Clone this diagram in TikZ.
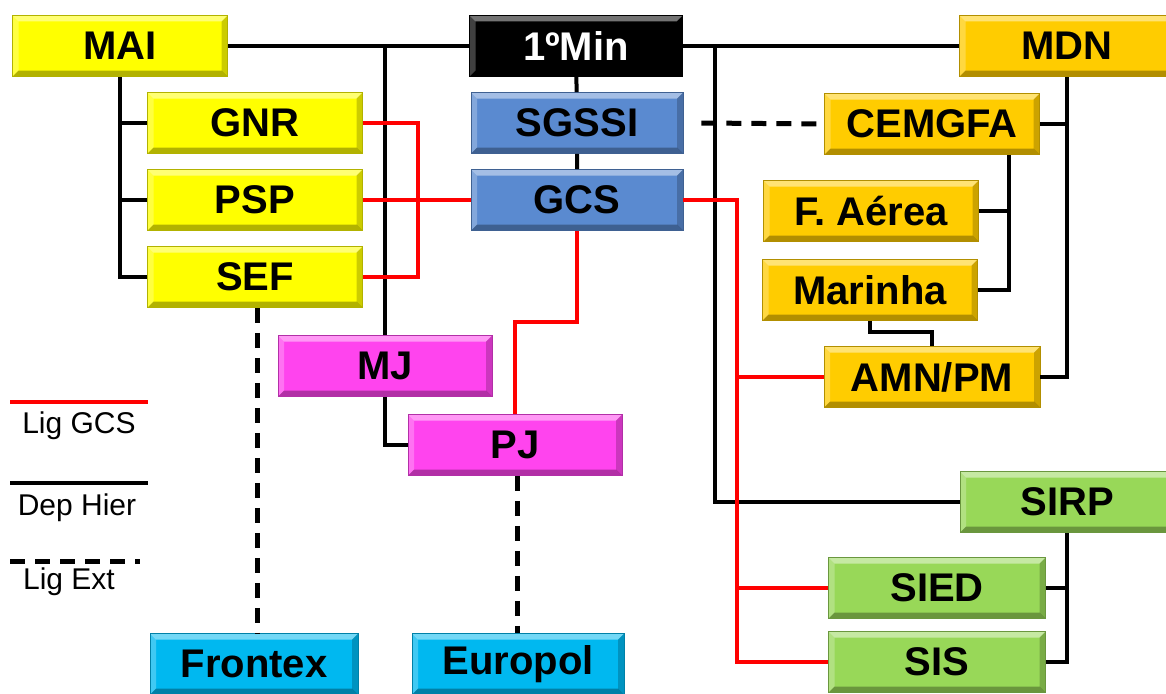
\documentclass[tikz,border=0pt]{standalone}
\usepackage{fontspec}
\setmainfont{Liberation Sans}
\usetikzlibrary{calc}

\definecolor{amarelo}{HTML}{FFFF00}
\definecolor{ouro}{HTML}{FFCC00}
\definecolor{azul}{HTML}{5A8AD0}
\definecolor{rosa}{HTML}{FF44EE}
\definecolor{verde}{HTML}{98D858}
\definecolor{ciano}{HTML}{00B8F0}
\definecolor{vermelho}{HTML}{FF0000}

\tikzset{
  caixa/.style={draw=#1!70!black, line width=0.6pt, fill=#1,
    minimum width=215pt, minimum height=61pt, inner sep=0pt,
    font=\fontsize{40}{40}\selectfont\bfseries,
    path picture={
      \fill[white,opacity=.45](path picture bounding box.north west)--(path picture bounding box.north east)
        --([shift={(-6pt,-6pt)}]path picture bounding box.north east)--([shift={(6pt,-6pt)}]path picture bounding box.north west)--cycle;
      \fill[white,opacity=.25](path picture bounding box.north west)--(path picture bounding box.south west)
        --([shift={(6pt,6pt)}]path picture bounding box.south west)--([shift={(6pt,-6pt)}]path picture bounding box.north west)--cycle;
      \fill[black,opacity=.3](path picture bounding box.south west)--(path picture bounding box.south east)
        --([shift={(-6pt,6pt)}]path picture bounding box.south east)--([shift={(6pt,6pt)}]path picture bounding box.south west)--cycle;
      \fill[black,opacity=.2](path picture bounding box.north east)--(path picture bounding box.south east)
        --([shift={(-6pt,6pt)}]path picture bounding box.south east)--([shift={(-6pt,-6pt)}]path picture bounding box.north east)--cycle;
    }},
  hier/.style={draw=black, line width=4pt},
  gcs/.style={draw=vermelho, line width=4pt},
  ext/.style={draw=black, line width=5pt, dash pattern=on 15pt off 10pt},
  legenda/.style={font=\fontsize{30}{30}\selectfont, inner sep=0pt}
}

\begin{document}
\begin{tikzpicture}[x=1pt,y=-1pt]
  \useasboundingbox(0,0)rectangle(1166,693);
  % topo
  \node[caixa=amarelo] (mai) at (120,46) {MAI};
  \node[caixa=black,text=white,minimum width=213pt] (min) at (576,46) {1ºMin};
  \node[caixa=ouro] (mdn) at (1067,46) {MDN};
  % MAI
  \node[caixa=amarelo] (gnr) at (255,123) {GNR};
  \node[caixa=amarelo] (psp) at (255,200) {PSP};
  \node[caixa=amarelo] (sef) at (255,277) {SEF};
  % 1ºMin
  \node[caixa=azul,minimum width=212pt] (sgssi) at (577,123) {SGSSI};
  \node[caixa=azul,minimum width=212pt] (gcs) at (577,200) {GCS};
  % MDN
  \node[caixa=ouro] (cemgfa) at (932,124) {CEMGFA};
  \node[caixa=ouro] (faerea) at (871,211) {F. Aérea};
  \node[caixa=ouro] (marinha) at (870,290) {Marinha};
  \node[caixa=ouro,minimum width=216pt] (amn) at (932,377) {AMN/PM};
  % MJ
  \node[caixa=rosa,minimum width=214pt] (mj) at (385,366) {MJ};
  \node[caixa=rosa,minimum width=214pt] (pj) at (515,445) {PJ};
  % informacoes
  \node[caixa=verde,minimum width=214pt] (sirp) at (1067,502) {SIRP};
  \node[caixa=verde,minimum width=217pt] (sied) at (937,588) {SIED};
  \node[caixa=verde,minimum width=217pt] (sis) at (937,662) {SIS};
  % externos
  \node[caixa=ciano,minimum width=208pt] (frontex) at (254,664) {Frontex};
  \node[caixa=ciano,minimum width=212pt] (europol) at (518,664) {Europol};

  % dependencia hierarquica
  \draw[hier](mai)--(min);
  \draw[hier](min)--(mdn);
  \draw[hier](mai.south)|-(gnr.west)(mai.south)|-(psp.west)(mai.south)|-(sef.west);
  \draw[hier](mai-|mj.north)--(mj.north);
  \draw[hier](mj.south)|-(pj.west);
  \draw[hier](min)--(sgssi)(sgssi)--(gcs);
  \coordinate (j1) at (715,46);
  \draw[hier](j1)|-(sirp.west);
  \draw[hier](mdn.south)|-(cemgfa.east)(mdn.south)|-(amn.east);
  \draw[hier]([xshift=77pt]cemgfa.south)|-(faerea.east)([xshift=77pt]cemgfa.south)|-(marinha.east);
  \draw[hier](marinha.south)--++(0,11)-|(amn.north);
  \draw[hier](sirp.south)|-(sied.east)(sirp.south)|-(sis.east);

  % ligacao GCS
  \draw[gcs](gnr.east)--++(55,0)|-(sef.east);
  \draw[gcs](psp)--(gcs);
  \draw[gcs](gcs.south)--++(0,91)-|(pj.north);
  \draw[gcs](gcs.east)--++(54,0)|-(sis.west);
  \draw[gcs]([xshift=54pt]gcs.east)|-(amn.west)([xshift=54pt]gcs.east)|-(sied.west);

  % ligacao externa
  \coordinate (j2) at ($(sgssi.east)+(18,0)$);
  \draw[ext](j2)--(cemgfa.west);
  \draw[ext]([xshift=2pt]sef.south)--([xshift=2pt]sef.south|-frontex.north);
  \draw[ext]([xshift=2pt]pj.south)--([xshift=2pt]pj.south|-europol.north);

  % legenda
  \node[legenda] (lgcs) at (79,426) {Lig GCS};
  \node[legenda] (ldep) at (77,508) {Dep Hier};
  \node[legenda] (lext) at (69,582) {Lig Ext};
  \draw[gcs](10,402)--(148,402);
  \draw[hier](10,483)--(148,483);
  \draw[ext](10,561)--(140,561);
\end{tikzpicture}
\end{document}
